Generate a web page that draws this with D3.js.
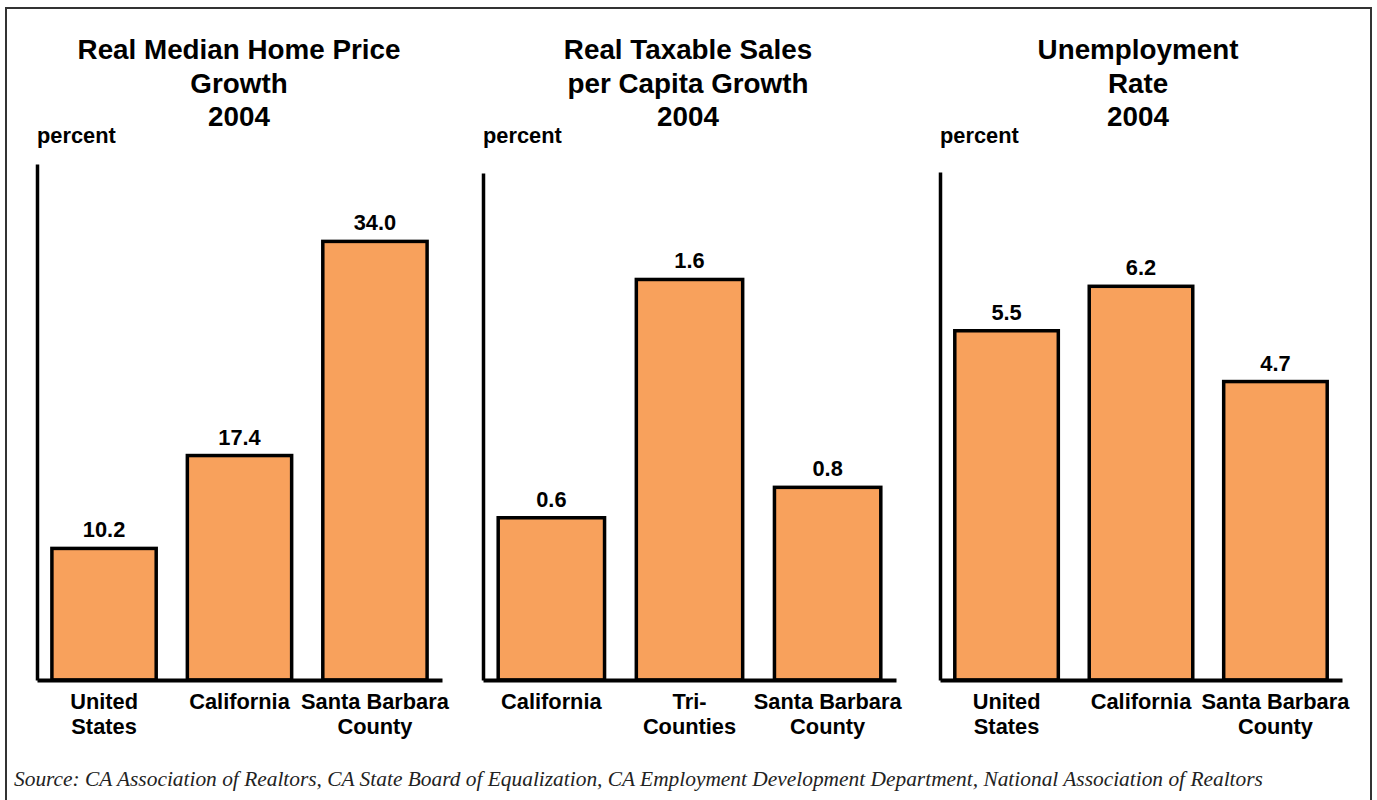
<!DOCTYPE html>
<html>
<head>
<meta charset="utf-8">
<script src="https://cdn.jsdelivr.net/npm/d3@7"></script>
<style>
  body { margin: 0; background: #fff; }
  svg text { font-family: "Liberation Sans", Arial, sans-serif; font-weight: bold; fill: #000; }
  .source { font-family: "Liberation Serif", "Times New Roman", serif; font-weight: normal; font-style: italic; fill: #222; }
</style>
</head>
<body>
<div id="container"></div>
<script>
/* DATA */
const homeTitle = ["Real Median Home Price", "Growth", "2004"]
const homeCats = ["United\nStates", "California", "Santa Barbara\nCounty"]
const homeValues = [10.2, 17.4, 34.0]

const salesTitle = ["Real Taxable Sales", "per Capita Growth", "2004"]
const salesCats = ["California", "Tri-\nCounties", "Santa Barbara\nCounty"]
const salesValues = [0.64, 1.58, 0.76]

const unempTitle = ["Unemployment", "Rate", "2004"]
const unempCats = ["United\nStates", "California", "Santa Barbara\nCounty"]
const unempValues = [5.5, 6.2, 4.7]

const yMax = [40, 2, 8]
const sourceText = "Source: CA Association of Realtors, CA State Board of Equalization, CA Employment Development Department, National Association of Realtors"

/* CONSTANTS */
const width = 1377, height = 800
const baseline = 680
const barColor = "#F8A15C"
const fmt = d3.format(".1f")

// panel layout: axis start/end and top of the value axis
const layout = [
  { x0: 37, x1: 442, top: 164, tx: 239 },
  { x0: 483, x1: 896, top: 173, tx: 688 },
  { x0: 940, x1: 1342, top: 172, tx: 1138 }
]

const panels = [
  { title: homeTitle, cats: homeCats, values: homeValues },
  { title: salesTitle, cats: salesCats, values: salesValues },
  { title: unempTitle, cats: unempCats, values: unempValues }
]

const svg = d3.select("#container")
  .append("svg")
  .attr("width", width)
  .attr("height", height)

// outer frame
svg.append("rect")
  .attr("x", 6)
  .attr("y", 8)
  .attr("width", 1365)
  .attr("height", 820)
  .attr("fill", "none")
  .attr("stroke", "#333")
  .attr("stroke-width", 2)

panels.forEach((p, i) => {
  const L = layout[i]
  const g = svg.append("g")

  /* SCALES */
  const xScale = d3.scaleBand()
    .domain(p.cats)
    .range([L.x0, L.x1])
    .paddingInner(0.23)
    .paddingOuter(0.11)

  const yScale = d3.scaleLinear()
    .domain([0, yMax[i]])
    .range([baseline, L.top])

  // title
  g.append("text")
    .attr("x", L.tx)
    .attr("text-anchor", "middle")
    .style("font-size", "27.8px")
    .selectAll("tspan")
    .data(p.title)
    .join("tspan")
    .attr("x", L.tx)
    .attr("y", (d, j) => 59 + j * 33.5)
    .text(d => d)

  // unit label
  g.append("text")
    .attr("x", L.x0)
    .attr("y", 143)
    .style("font-size", "21.8px")
    .text("percent")

  // bars
  g.selectAll("rect.bar")
    .data(p.values)
    .join("rect")
    .attr("class", "bar")
    .attr("x", (d, j) => xScale(p.cats[j]))
    .attr("y", d => yScale(d))
    .attr("width", xScale.bandwidth())
    .attr("height", d => baseline - yScale(d))
    .attr("fill", barColor)
    .attr("stroke", "#000")
    .attr("stroke-width", 3.5)

  // value labels
  g.selectAll("text.val")
    .data(p.values)
    .join("text")
    .attr("class", "val")
    .attr("x", (d, j) => xScale(p.cats[j]) + xScale.bandwidth() / 2)
    .attr("y", d => yScale(d) - 11)
    .attr("text-anchor", "middle")
    .style("font-size", "21.8px")
    .text(d => fmt(d))

  // axes
  const yAxis = d3.axisLeft(yScale).ticks(0).tickSize(0)
  g.append("g")
    .attr("transform", `translate(${L.x0},0)`)
    .call(yAxis)
    .call(a => a.select(".domain").attr("stroke", "#000").attr("stroke-width", 3.5))

  const xAxis = d3.axisBottom(xScale).tickSize(0).tickFormat("")
  g.append("g")
    .attr("transform", `translate(0,${baseline})`)
    .call(xAxis)
    .call(a => a.select(".domain").attr("stroke", "#000").attr("stroke-width", 4))

  // category labels
  const cl = g.selectAll("text.cat")
    .data(p.cats)
    .join("text")
    .attr("class", "cat")
    .attr("text-anchor", "middle")
    .style("font-size", "21.8px")

  cl.selectAll("tspan")
    .data(d => d.split("\n").map(t => ({ t, c: d })))
    .join("tspan")
    .attr("x", d => xScale(d.c) + xScale.bandwidth() / 2)
    .attr("y", (d, j) => 709 + j * 24.5)
    .text(d => d.t)
})

// source note
svg.append("text")
  .attr("class", "source")
  .attr("x", 14)
  .attr("y", 786)
  .style("font-size", "21.4px")
  .text(sourceText)
</script>
</body>
</html>
